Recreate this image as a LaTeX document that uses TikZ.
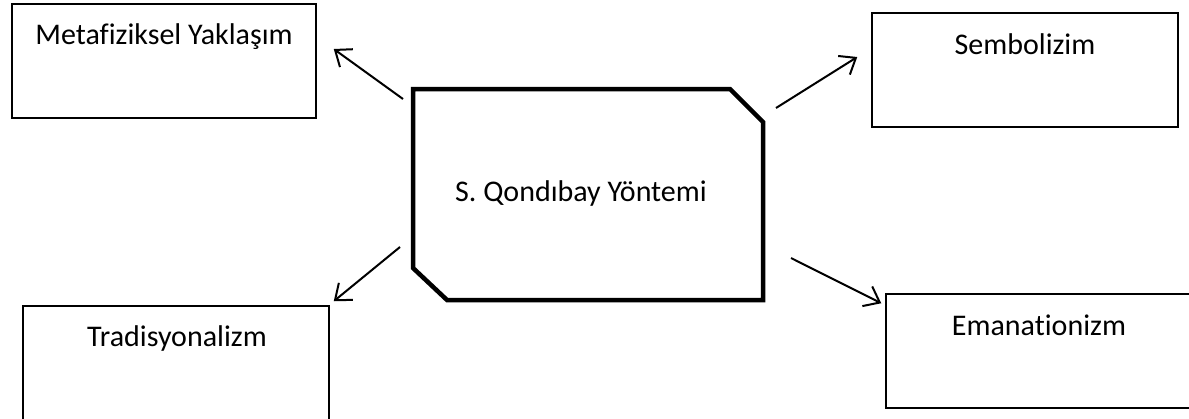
\documentclass[tikz,border=0pt]{standalone}
\usepackage{fontspec}
\setmainfont{Carlito}[Ligatures={NoCommon}]
\usetikzlibrary{arrows.meta,calc}
\begin{document}
\begin{tikzpicture}[x=1pt,y=-1pt,
  box/.style={draw, line width=1.5pt, inner sep=0pt},
  lbl/.style={font=\fontsize{30}{34}\selectfont, inner sep=0pt, anchor=base},
  arr/.style={line width=2pt, -{Straight Barb[length=14pt,width=22pt,line width=2pt]}}]
\useasboundingbox (0,0) rectangle (1189,418);
% outer boxes
\node[box, minimum width=304pt, minimum height=114pt] (meta) at (164,61) {};
\node[box, minimum width=306pt, minimum height=114pt] (semb) at (1025,70) {};
\node[box, minimum width=306pt, minimum height=119pt] (trad) at (176,365.5) {};
\node[box, minimum width=309pt, minimum height=114pt] (eman) at (1040.5,351) {};
\node[lbl] (metaT) at (164,44) {Metafiziksel Yaklaşım};
\node[lbl] (sembT) at (1025,54) {Sembolizim};
\node[lbl] (tradT) at (177,346) {Tradisyonalizm};
\node[lbl] (emanT) at (1039,335) {Emanationizm};
% central shape
\draw[line width=4.5pt] (413,89) -- (730,89) -- (763,122) -- (763,300) -- (447,300) -- (413,268) -- cycle;
\node[lbl] (center) at (581,201) {S. Qondıbay Yöntemi};
% arrow start points
\coordinate (sMeta) at (403,99);
\coordinate (sSemb) at (776,108);
\coordinate (sTrad) at (400,247);
\coordinate (sEman) at (791,258);
\draw[arr] (sMeta) -- ($(meta.east)+(17,-12)$);
\draw[arr] (sSemb) -- ($(semb.west)+(-14,-13)$);
\draw[arr] (sTrad) -- ($(trad.north east)+(4,-4)$);
\draw[arr] (sEman) -- ($(eman.north west)+(-4,10)$);
\end{tikzpicture}
\end{document}
